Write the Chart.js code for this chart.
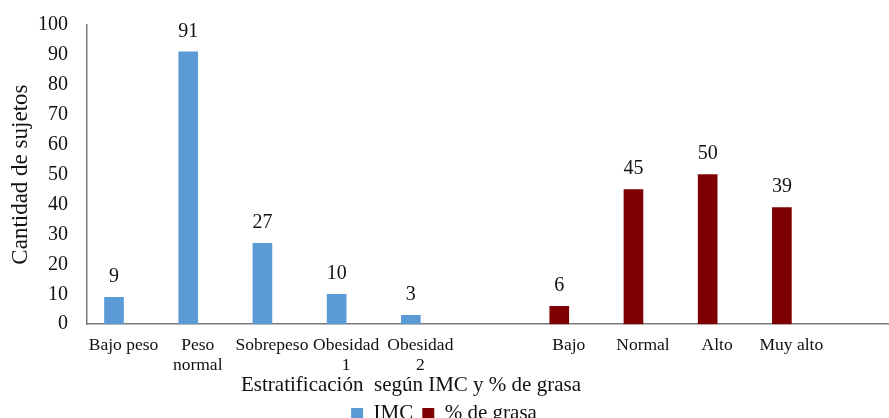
<!DOCTYPE html>
<html>
<head>
<meta charset="utf-8">
<script src="https://cdn.jsdelivr.net/npm/chart.js@4.4.1/dist/chart.umd.min.js"></script>
<style>
  html, body { margin: 0; padding: 0; background: #fff; overflow: hidden; }
  #wrap { position: relative; width: 889px; height: 434px; }
</style>
</head>
<body>
<div id="wrap"><canvas id="chart"></canvas></div>
<script>
// Categories along the x axis (index 5 is an empty spacer between the two groups)
const categories = ["Bajo peso", ["Peso", "normal"], "Sobrepeso", ["Obesidad", "1"], ["Obesidad", "2"], "", "Bajo", "Normal", "Alto", "Muy alto"];
// Number of subjects per category
const imcValues   = [9, 91, 27, 10, 3, null, null, null, null, null];
const grasaValues = [null, null, null, null, null, null, 6, 45, 50, 39];
const seriesNames = ["IMC", "% de grasa"];
const yTitle = "Cantidad de sujetos";
const xTitle = "Estratificación  según IMC y % de grasa";

const TEXT = '#111';
const AXIS = '#7a7a7a';
Chart.defaults.font.family = '"Liberation Serif", "Times New Roman", serif';
Chart.defaults.color = TEXT;

function toPoints(values) {
  return values.map((v, i) => (v === null ? null : { x: i, y: v })).filter(p => p !== null);
}

// Value written above each bar
const valueLabels = {
  id: 'valueLabels',
  afterDatasetsDraw(chart) {
    const ctx = chart.ctx;
    ctx.save();
    ctx.font = '20px "Liberation Serif", serif';
    ctx.fillStyle = TEXT;
    ctx.textAlign = 'center';
    ctx.textBaseline = 'middle';
    chart.data.datasets.forEach((ds, di) => {
      const meta = chart.getDatasetMeta(di);
      meta.data.forEach((bar, i) => {
        ctx.fillText(String(ds.data[i].y), bar.x, bar.y - 20.5);
      });
    });
    ctx.restore();
  }
};

// Center the bottom title a little left of the canvas middle
const titleShift = {
  id: 'titleShift',
  afterLayout(chart) {
    const t = chart.titleBlock;
    if (t) { t.left -= 33; t.right -= 33; }
  }
};

new Chart(document.getElementById('chart'), {
  type: 'bar',
  data: {
    datasets: [
      { label: seriesNames[0], data: toPoints(imcValues), backgroundColor: '#5B9BD5', borderWidth: 0 },
      { label: seriesNames[1], data: toPoints(grasaValues), backgroundColor: '#7F0000', borderWidth: 0 }
    ]
  },
  options: {
    responsive: true,
    maintainAspectRatio: false,
    animation: false,
    events: [],
    layout: { padding: { top: 25, right: 1, left: 0, bottom: 0 } },
    datasets: { bar: { grouped: false, barThickness: 19 } },
    scales: {
      x: {
        type: 'linear',
        offset: false,
        bounds: 'data',
        min: -0.364,
        max: 10.43,
        grid: { display: false, drawTicks: false, offset: false },
        border: { color: AXIS, width: 1.5 },
        afterBuildTicks: scale => {
          scale.ticks = categories.map((c, i) => ({ value: i }));
          scale.min = -0.364;
          scale.max = 10.43;
        },
        afterFit: scale => { scale.height = 51; scale.paddingLeft = 0; scale.paddingRight = 0; },
        ticks: {
          autoSkip: false,
          maxRotation: 0,
          minRotation: 0,
          padding: 11,
          labelOffset: 9.5,
          color: TEXT,
          font: { size: 17.5, lineHeight: 1.143 },
          callback: v => categories[v]
        }
      },
      y: {
        min: 0,
        max: 100,
        grid: { display: false, drawTicks: false },
        border: { color: AXIS, width: 1.5 },
        afterFit: scale => { scale.width = 87; scale.paddingTop = 0; scale.paddingBottom = 0; },
        ticks: { stepSize: 10, padding: 19, color: TEXT, font: { size: 20 } },
        title: {
          display: true,
          text: yTitle,
          color: TEXT,
          font: { size: 23, lineHeight: 1 },
          padding: { top: 9.5, bottom: 6 }
        }
      }
    },
    plugins: {
      legend: {
        position: 'bottom',
        labels: { boxWidth: 12, boxHeight: 11, padding: 9, color: TEXT, font: { size: 21 } }
      },
      title: {
        display: true,
        position: 'bottom',
        weight: 500,
        text: xTitle,
        color: TEXT,
        font: { size: 21, weight: 'normal', lineHeight: 0.8 },
        padding: { top: 2, bottom: 0 }
      },
      tooltip: { enabled: false }
    }
  },
  plugins: [valueLabels, titleShift]
});
</script>
</body>
</html>
